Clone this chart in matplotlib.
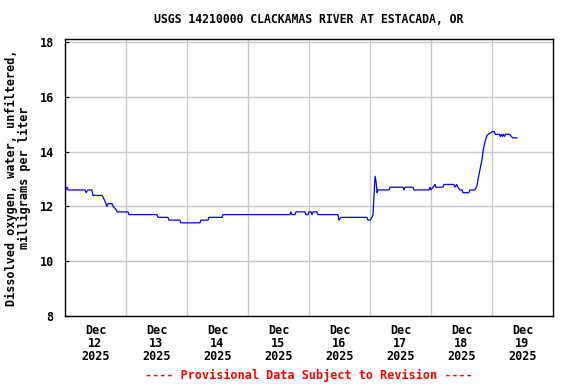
import numpy as np
import pandas as pd
import matplotlib
matplotlib.use("Agg")
import matplotlib.pyplot as plt
import matplotlib.dates as mdates

# hours since 2025-12-12 00:00 and dissolved oxygen (mg/L)
hours = [0.0, 0.4, 0.8, 1.2, 7.9, 8.3, 9.0, 10.6, 11.0, 14.6, 15.7, 16.5, 17.0, 18.5,
         18.9, 20.0, 20.5, 24.8, 25.2, 36.2, 36.6, 40.5, 40.9, 45.2, 45.6, 53.1, 53.5,
         56.3, 56.6, 61.8, 62.2, 88.5, 88.9, 89.3, 90.5, 90.9, 94.4, 94.8, 95.6, 96.0,
         96.8, 97.2, 97.6, 99.1, 99.5, 107.4, 107.8, 108.6, 118.8, 119.2, 120.0, 120.8,
         121.2, 121.6, 122.0, 122.4, 122.8, 123.1, 127.5, 127.9, 133.0, 133.4, 133.8,
         136.9, 137.3, 143.2, 143.6, 144.0, 144.8, 145.6, 146.0, 146.4, 148.7, 149.1,
         153.0, 153.4, 154.2, 154.6, 155.4, 156.2, 156.6, 158.9, 159.3, 161.3, 162.1,
         162.5, 163.3, 164.1, 164.5, 165.3, 166.1, 167.3, 168.1, 168.9, 169.3, 170.9,
         171.3, 171.7, 172.1, 172.5, 172.9, 173.3, 174.9, 175.7, 176.1, 177.8]
do_mgl = [12.7, 12.6, 12.7, 12.6, 12.6, 12.5, 12.6, 12.6, 12.4, 12.4, 12.2, 12.0, 12.1, 12.1,
          12.0, 11.9, 11.8, 11.8, 11.7, 11.7, 11.6, 11.6, 11.5, 11.5, 11.4, 11.4, 11.5,
          11.5, 11.6, 11.6, 11.7, 11.7, 11.8, 11.7, 11.7, 11.8, 11.8, 11.7, 11.7, 11.8,
          11.8, 11.7, 11.8, 11.8, 11.7, 11.7, 11.5, 11.6, 11.6, 11.5, 11.5, 11.6,
          11.7, 12.4, 13.1, 12.9, 12.5, 12.6, 12.6, 12.7, 12.7, 12.6, 12.7,
          12.7, 12.6, 12.6, 12.7, 12.6, 12.7, 12.8, 12.7, 12.7, 12.7, 12.8,
          12.8, 12.7, 12.8, 12.7, 12.6, 12.6, 12.5, 12.5, 12.6, 12.6, 12.75,
          12.98, 13.35, 13.71, 14.02, 14.38, 14.6, 14.67, 14.73, 14.73, 14.63, 14.63,
          14.55, 14.63, 14.55, 14.63, 14.55, 14.63, 14.63, 14.55, 14.5, 14.5]

title = "USGS 14210000 CLACKAMAS RIVER AT ESTACADA, OR"
ylabel = "Dissolved oxygen, water, unfiltered,\nmilligrams per liter"
footer = "---- Provisional Data Subject to Revision ----"
start = pd.Timestamp("2025-12-12")
days = pd.date_range("2025-12-12", "2025-12-19")

times = start + pd.to_timedelta(hours, unit="h")

mono = "DejaVu Sans Mono"
fig = plt.figure(figsize=(5.76, 3.84), dpi=100)
ax = fig.add_axes([0.1128, 0.177, 0.8472, 0.721])

ax.plot(times, do_mgl, color="#0000ff", lw=0.9)

ax.set_xlim(start, start + pd.Timedelta(days=8))
ax.set_ylim(8, 18.1)
ax.set_yticks([8, 10, 12, 14, 16, 18])
ax.set_yticklabels([str(v) for v in [8, 10, 12, 14, 16, 18]],
                   fontfamily=mono, fontweight="bold", fontsize=8.5)

# gridlines at midnight, labels at noon
ax.set_xticks(pd.date_range("2025-12-13", "2025-12-19"), minor=True)
ax.set_xticks(days + pd.Timedelta(hours=12))
ax.set_xticklabels([d.strftime("%b\n%d\n%Y") for d in days],
                   fontfamily=mono, fontweight="bold", fontsize=8.5, linespacing=1.0)
ax.tick_params(axis="x", which="both", length=0, pad=6)
ax.tick_params(axis="y", direction="in", length=3, pad=8)
ax.grid(True, axis="x", which="minor", color="#c8c8c8", lw=1)
ax.grid(True, axis="y", which="major", color="#c8c8c8", lw=1)
for s in ax.spines.values():
    s.set_linewidth(1)

ax.set_ylabel(ylabel, fontfamily=mono, fontweight="bold", fontsize=8.5, labelpad=6, linespacing=1.05)
cx = 309 / 576
fig.text(cx, 0.95, title, ha="center", va="center", fontfamily=mono, fontweight="bold", fontsize=8.3)
fig.text(cx, 0.023, footer, ha="center", va="center", color="red",
         fontfamily=mono, fontweight="bold", fontsize=8.5)

fig.savefig("out.png", dpi=100)
